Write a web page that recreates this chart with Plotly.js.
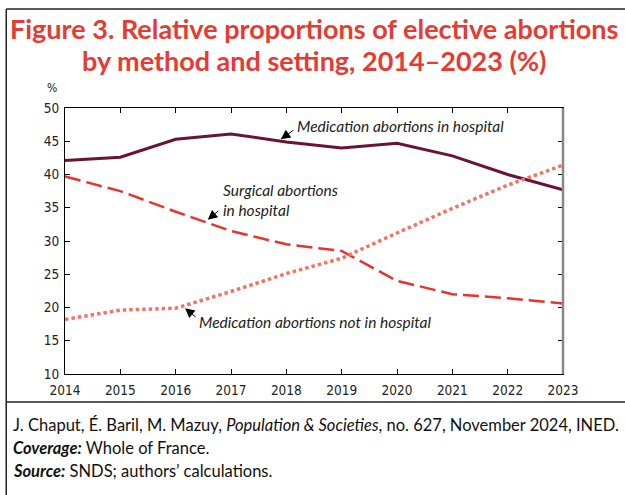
<!DOCTYPE html>
<html><head><meta charset="utf-8">
<script src="https://cdn.plot.ly/plotly-3.0.1.min.js"></script>
<style>html,body{margin:0;padding:0;background:#fff;}#chart{width:625px;height:495px;}</style>
</head><body><div id="chart"></div>
<script>
const years = [2014, 2015, 2016, 2017, 2018, 2019, 2020, 2021, 2022, 2023];
const medHospital = [42.1, 42.6, 45.3, 46.1, 44.9, 44.0, 44.7, 42.8, 40.0, 37.7];
const surgHospital = [39.7, 37.5, 34.4, 31.5, 29.5, 28.5, 24.0, 22.0, 21.4, 20.6];
const medNotHospital = [18.2, 19.6, 19.9, 22.4, 25.1, 27.4, 31.2, 34.9, 38.4, 41.4];
const yTicks = [10, 15, 20, 25, 30, 35, 40, 45, 50];
const seriesNames = ["Medication abortions in hospital", "Surgical abortions<br>in hospital", "Medication abortions not in hospital"];
const titleLines = ["Figure 3. Relative proportions of elective abortions", "by method and setting, 2014–2023 (%)"];

const tickFont = {family: "DejaVu Sans Condensed, sans-serif", size: 13.5, color: "#222"};
const annFont = {family: "Lato, sans-serif", size: 15.5, color: "#222", style: "italic"};
const footFont = {family: "Lato, sans-serif", size: 16.5, color: "#111"};
const titleFont = {family: "Lato, sans-serif", size: 27, weight: 700, color: "#e63a33"};

const traces = [
  {x: years, y: medHospital, type: "scatter", mode: "lines", line: {color: "#6a1430", width: 3}, hoverinfo: "skip"},
  {x: years, y: surgHospital, type: "scatter", mode: "lines", line: {color: "#e8322f", width: 2.5, dash: "16px,6px"}, hoverinfo: "skip"},
  {x: years, y: medNotHospital, type: "scatter", mode: "lines", line: {color: "#ef7565", width: 3.5, dash: "3.5px,3px"}, hoverinfo: "skip"}
];

const arrowStyle = {text: "", showarrow: true, arrowhead: 2, arrowsize: 1.9, arrowwidth: 1, arrowcolor: "#000"};

const ann = [
  {xref: "paper", yref: "paper", x: 0.5, y: 1.297, xanchor: "center", yanchor: "middle", text: titleLines[0], showarrow: false, font: titleFont},
  {xref: "paper", yref: "paper", x: 0.5, y: 1.18, xanchor: "center", yanchor: "middle", text: titleLines[1], showarrow: false, font: titleFont},
  {x: 2018.16, y: 47.3, xanchor: "left", yanchor: "middle", text: seriesNames[0], showarrow: false, font: annFont},
  Object.assign({x: 2017.9, y: 45.3, ax: 14, ay: -10}, arrowStyle),
  {x: 2016.82, y: 36.2, xanchor: "left", yanchor: "middle", align: "left", text: seriesNames[1], showarrow: false, font: annFont},
  Object.assign({x: 2016.58, y: 33.2, ax: 12, ay: -10}, arrowStyle),
  {x: 2016.39, y: 17.8, xanchor: "left", yanchor: "middle", text: seriesNames[2], showarrow: false, font: annFont},
  Object.assign({x: 2016.17, y: 19.9, ax: 12, ay: 10}, arrowStyle),
  {xref: "paper", yref: "paper", x: -0.026, y: 1.075, xanchor: "center", yanchor: "middle", text: "%", showarrow: false, font: {family: "DejaVu Sans Condensed, sans-serif", size: 12, color: "#222"}},
  {xref: "paper", yref: "paper", x: -0.108, y: -0.19, xanchor: "left", yanchor: "middle", showarrow: false, align: "left",
   text: "J. Chaput, É. Baril, M. Mazuy, <i>Population & Societies</i>, no. 627, November 2024, INED.", font: footFont},
  {xref: "paper", yref: "paper", x: -0.108, y: -0.278, xanchor: "left", yanchor: "middle", showarrow: false, align: "left",
   text: "<b><i>Coverage:</i></b> Whole of France.", font: footFont},
  {xref: "paper", yref: "paper", x: -0.108, y: -0.366, xanchor: "left", yanchor: "middle", showarrow: false, align: "left",
   text: "<b><i>Source:</i></b> SNDS; authors’ calculations.", font: footFont}
];

const shapes = [
  {type: "line", xref: "paper", yref: "paper", x0: -0.118, x1: -0.118, y0: 1.372, y1: -0.5, line: {color: "#222", width: 1.5}},
  {type: "line", xref: "paper", yref: "paper", x0: -0.118, x1: 1.2, y0: 1.372, y1: 1.372, line: {color: "#222", width: 1.5}},
  {type: "line", xref: "paper", yref: "paper", x0: -0.118, x1: 1.2, y0: -0.105, y1: -0.105, line: {color: "#222", width: 1.5}},
  {type: "line", xref: "paper", yref: "paper", x0: 1, x1: 1, y0: 0, y1: 1, line: {color: "#888", width: 2.5}}
];

const layout = {
  width: 625, height: 495,
  margin: {l: 65, r: 62, t: 108, b: 121},
  paper_bgcolor: "#fff", plot_bgcolor: "#fff",
  showlegend: false,
  xaxis: {range: [2014, 2023], tickvals: years, ticktext: years.map(String), ticks: "inside", ticklen: 5, tickcolor: "#000", ticklabelstandoff: 4,
          showline: true, linecolor: "#000", linewidth: 1, mirror: "ticks", showgrid: false, zeroline: false, tickfont: tickFont, fixedrange: true},
  yaxis: {range: [10, 50], tickvals: yTicks, ticks: "inside", ticklen: 5, tickcolor: "#000", ticklabelstandoff: 2,
          showline: true, linecolor: "#000", linewidth: 1, mirror: "ticks", showgrid: false, zeroline: false, tickfont: tickFont, fixedrange: true},
  annotations: ann,
  shapes: shapes
};

Plotly.newPlot("chart", traces, layout, {displayModeBar: false, staticPlot: true});
</script></body></html>
